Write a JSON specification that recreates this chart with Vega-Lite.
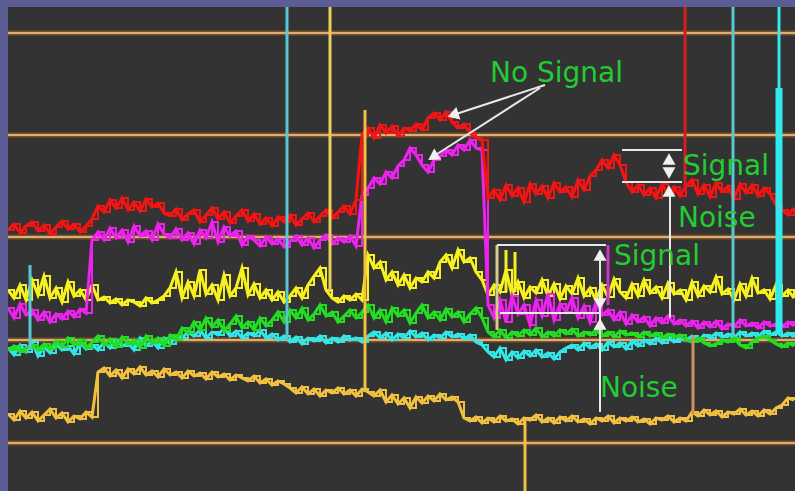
{
"$schema": "https://vega.github.io/schema/vega-lite/v6.json",
"width": 787, "height": 484,
"autosize": {"type": "none"},
"padding": {"left": 8, "top": 7, "right": 0, "bottom": 0},
"background": "#5b5d94",
"config": {"view": {"fill": "#333333", "stroke": null}},
"datasets": {
"signal": [
{"x":8,"r":230,"m":308,"yl":290,"g":350,"c":348,"o":414},
{"x":14,"r":224,"m":318,"yl":298,"g":346,"c":355,"o":420},
{"x":20,"r":233,"m":304,"yl":285,"g":352,"c":345,"o":411},
{"x":26,"r":226,"m":315,"yl":300,"g":348,"c":352,"o":418},
{"x":32,"r":222,"m":310,"yl":280,"g":345,"c":342,"o":412},
{"x":38,"r":231,"m":320,"yl":295,"g":350,"c":356,"o":421},
{"x":44,"r":225,"m":312,"yl":276,"g":344,"c":347,"o":415},
{"x":50,"r":234,"m":322,"yl":298,"g":349,"c":353,"o":409},
{"x":56,"r":227,"m":314,"yl":288,"g":341,"c":344,"o":418},
{"x":62,"r":221,"m":319,"yl":302,"g":347,"c":350,"o":413},
{"x":68,"r":229,"m":311,"yl":282,"g":338,"c":346,"o":422},
{"x":74,"r":224,"m":317,"yl":296,"g":345,"c":354,"o":416},
{"x":80,"r":232,"m":309,"yl":290,"g":340,"c":343,"o":419},
{"x":86,"r":226,"m":313,"yl":300,"g":348,"c":349,"o":412},
{"x":92,"r":219,"m":240,"yl":285,"g":342,"c":345,"o":417},
{"x":98,"r":206,"m":232,"yl":300,"g":336,"c":350,"o":372},
{"x":104,"r":212,"m":240,"yl":297,"g":345,"c":342,"o":368},
{"x":110,"r":200,"m":228,"yl":303,"g":339,"c":348,"o":376},
{"x":116,"r":208,"m":238,"yl":299,"g":347,"c":340,"o":370},
{"x":122,"r":198,"m":230,"yl":305,"g":337,"c":346,"o":378},
{"x":128,"r":210,"m":242,"yl":300,"g":344,"c":343,"o":369},
{"x":134,"r":202,"m":226,"yl":302,"g":340,"c":350,"o":374},
{"x":140,"r":211,"m":236,"yl":306,"g":348,"c":338,"o":367},
{"x":146,"r":199,"m":231,"yl":298,"g":336,"c":346,"o":375},
{"x":152,"r":207,"m":240,"yl":303,"g":343,"c":341,"o":371},
{"x":158,"r":203,"m":224,"yl":300,"g":338,"c":348,"o":377},
{"x":164,"r":213,"m":234,"yl":296,"g":346,"c":338,"o":369},
{"x":170,"r":216,"m":238,"yl":288,"g":335,"c":344,"o":375},
{"x":176,"r":209,"m":229,"yl":272,"g":340,"c":336,"o":372},
{"x":182,"r":220,"m":240,"yl":298,"g":328,"c":338,"o":378},
{"x":188,"r":214,"m":233,"yl":282,"g":333,"c":332,"o":371},
{"x":194,"r":210,"m":244,"yl":296,"g":322,"c":336,"o":376},
{"x":200,"r":222,"m":230,"yl":270,"g":330,"c":330,"o":373},
{"x":206,"r":215,"m":238,"yl":294,"g":318,"c":338,"o":379},
{"x":212,"r":208,"m":222,"yl":285,"g":327,"c":332,"o":372},
{"x":218,"r":219,"m":242,"yl":300,"g":320,"c":335,"o":377},
{"x":224,"r":212,"m":227,"yl":275,"g":331,"c":328,"o":374},
{"x":230,"r":223,"m":236,"yl":296,"g":324,"c":336,"o":380},
{"x":236,"r":216,"m":231,"yl":288,"g":316,"c":331,"o":375},
{"x":242,"r":210,"m":245,"yl":268,"g":328,"c":338,"o":378},
{"x":248,"r":221,"m":236,"yl":295,"g":322,"c":333,"o":381},
{"x":254,"r":214,"m":240,"yl":284,"g":330,"c":336,"o":376},
{"x":260,"r":224,"m":246,"yl":298,"g":318,"c":330,"o":383},
{"x":266,"r":218,"m":237,"yl":290,"g":326,"c":338,"o":379},
{"x":272,"r":226,"m":244,"yl":300,"g":320,"c":334,"o":385},
{"x":278,"r":217,"m":239,"yl":292,"g":312,"c":340,"o":381},
{"x":284,"r":222,"m":247,"yl":302,"g":322,"c":336,"o":384},
{"x":290,"r":215,"m":241,"yl":296,"g":310,"c":342,"o":388},
{"x":296,"r":225,"m":236,"yl":288,"g":318,"c":337,"o":393},
{"x":302,"r":219,"m":245,"yl":298,"g":308,"c":344,"o":387},
{"x":308,"r":213,"m":238,"yl":285,"g":320,"c":338,"o":394},
{"x":314,"r":222,"m":248,"yl":276,"g":314,"c":341,"o":389},
{"x":320,"r":216,"m":240,"yl":268,"g":305,"c":336,"o":396},
{"x":326,"r":210,"m":235,"yl":290,"g":316,"c":343,"o":390},
{"x":332,"r":218,"m":244,"yl":298,"g":312,"c":338,"o":393},
{"x":338,"r":212,"m":238,"yl":302,"g":322,"c":342,"o":388},
{"x":344,"r":206,"m":242,"yl":296,"g":316,"c":336,"o":394},
{"x":350,"r":214,"m":236,"yl":300,"g":310,"c":340,"o":390},
{"x":356,"r":200,"m":246,"yl":294,"g":318,"c":338,"o":396},
{"x":362,"r":135,"m":195,"yl":300,"g":312,"c":342,"o":389},
{"x":368,"r":128,"m":188,"yl":255,"g":305,"c":336,"o":392},
{"x":374,"r":138,"m":178,"yl":268,"g":318,"c":332,"o":396},
{"x":380,"r":125,"m":184,"yl":262,"g":310,"c":338,"o":390},
{"x":386,"r":133,"m":172,"yl":280,"g":322,"c":333,"o":402},
{"x":392,"r":126,"m":178,"yl":272,"g":308,"c":340,"o":395},
{"x":398,"r":136,"m":166,"yl":285,"g":316,"c":334,"o":404},
{"x":404,"r":128,"m":160,"yl":275,"g":310,"c":338,"o":398},
{"x":410,"r":131,"m":148,"yl":288,"g":323,"c":331,"o":408},
{"x":416,"r":124,"m":155,"yl":278,"g":313,"c":337,"o":397},
{"x":422,"r":130,"m":165,"yl":282,"g":305,"c":333,"o":403},
{"x":428,"r":118,"m":172,"yl":272,"g":318,"c":340,"o":396},
{"x":434,"r":113,"m":160,"yl":278,"g":312,"c":335,"o":401},
{"x":440,"r":120,"m":156,"yl":262,"g":320,"c":338,"o":394},
{"x":446,"r":112,"m":150,"yl":255,"g":309,"c":332,"o":400},
{"x":452,"r":122,"m":155,"yl":268,"g":317,"c":337,"o":397},
{"x":458,"r":128,"m":145,"yl":250,"g":312,"c":334,"o":402},
{"x":464,"r":124,"m":150,"yl":262,"g":322,"c":339,"o":418},
{"x":470,"r":133,"m":140,"yl":258,"g":314,"c":335,"o":421},
{"x":476,"r":138,"m":148,"yl":272,"g":308,"c":342,"o":417},
{"x":482,"r":140,"m":150,"yl":280,"g":318,"c":345,"o":423},
{"x":488,"r":198,"m":305,"yl":295,"g":332,"c":352,"o":418},
{"x":494,"r":190,"m":318,"yl":285,"g":337,"c":357,"o":422},
{"x":500,"r":200,"m":300,"yl":292,"g":330,"c":348,"o":416},
{"x":506,"r":185,"m":322,"yl":270,"g":338,"c":360,"o":421},
{"x":512,"r":196,"m":296,"yl":295,"g":332,"c":352,"o":419},
{"x":518,"r":188,"m":314,"yl":282,"g":336,"c":358,"o":424},
{"x":524,"r":202,"m":305,"yl":298,"g":330,"c":351,"o":418},
{"x":530,"r":184,"m":325,"yl":287,"g":335,"c":356,"o":420},
{"x":536,"r":194,"m":300,"yl":293,"g":328,"c":350,"o":415},
{"x":542,"r":186,"m":316,"yl":280,"g":337,"c":357,"o":422},
{"x":548,"r":198,"m":294,"yl":296,"g":332,"c":353,"o":418},
{"x":554,"r":183,"m":320,"yl":284,"g":336,"c":359,"o":423},
{"x":560,"r":192,"m":304,"yl":299,"g":330,"c":352,"o":417},
{"x":566,"r":187,"m":312,"yl":286,"g":334,"c":348,"o":421},
{"x":572,"r":197,"m":298,"yl":294,"g":329,"c":345,"o":416},
{"x":578,"r":180,"m":318,"yl":278,"g":336,"c":350,"o":422},
{"x":584,"r":190,"m":306,"yl":296,"g":332,"c":343,"o":419},
{"x":590,"r":176,"m":322,"yl":288,"g":335,"c":348,"o":424},
{"x":596,"r":170,"m":302,"yl":300,"g":330,"c":344,"o":418},
{"x":602,"r":160,"m":315,"yl":285,"g":336,"c":350,"o":421},
{"x":608,"r":168,"m":310,"yl":297,"g":332,"c":342,"o":416},
{"x":614,"r":155,"m":320,"yl":279,"g":337,"c":347,"o":423},
{"x":620,"r":165,"m":312,"yl":292,"g":331,"c":343,"o":418},
{"x":626,"r":182,"m":324,"yl":298,"g":335,"c":349,"o":421},
{"x":632,"r":192,"m":315,"yl":284,"g":333,"c":341,"o":417},
{"x":638,"r":185,"m":322,"yl":296,"g":337,"c":346,"o":422},
{"x":644,"r":195,"m":317,"yl":280,"g":332,"c":340,"o":419},
{"x":650,"r":188,"m":326,"yl":293,"g":336,"c":344,"o":424},
{"x":656,"r":198,"m":318,"yl":287,"g":333,"c":338,"o":418},
{"x":662,"r":184,"m":323,"yl":298,"g":338,"c":343,"o":420},
{"x":668,"r":194,"m":316,"yl":283,"g":334,"c":337,"o":416},
{"x":674,"r":187,"m":324,"yl":294,"g":337,"c":342,"o":422},
{"x":680,"r":196,"m":320,"yl":290,"g":335,"c":338,"o":418},
{"x":686,"r":186,"m":326,"yl":300,"g":340,"c":340,"o":421},
{"x":692,"r":180,"m":321,"yl":282,"g":342,"c":336,"o":412},
{"x":698,"r":194,"m":328,"yl":296,"g":338,"c":341,"o":416},
{"x":704,"r":185,"m":322,"yl":286,"g":343,"c":335,"o":410},
{"x":710,"r":197,"m":327,"yl":292,"g":346,"c":338,"o":415},
{"x":716,"r":183,"m":321,"yl":277,"g":344,"c":333,"o":411},
{"x":722,"r":192,"m":329,"yl":294,"g":340,"c":337,"o":417},
{"x":728,"r":186,"m":324,"yl":289,"g":342,"c":334,"o":412},
{"x":734,"r":199,"m":327,"yl":300,"g":338,"c":338,"o":414},
{"x":740,"r":184,"m":320,"yl":284,"g":345,"c":332,"o":409},
{"x":746,"r":193,"m":326,"yl":296,"g":348,"c":336,"o":415},
{"x":752,"r":185,"m":323,"yl":278,"g":342,"c":333,"o":411},
{"x":758,"r":196,"m":328,"yl":293,"g":338,"c":337,"o":416},
{"x":764,"r":188,"m":322,"yl":290,"g":336,"c":331,"o":410},
{"x":770,"r":194,"m":326,"yl":299,"g":340,"c":335,"o":414},
{"x":776,"r":205,"m":324,"yl":285,"g":344,"c":332,"o":408},
{"x":782,"r":210,"m":327,"yl":296,"g":347,"c":336,"o":405},
{"x":788,"r":215,"m":322,"yl":290,"g":343,"c":333,"o":398},
{"x":794,"r":208,"m":326,"yl":298,"g":346,"c":337,"o":400}
],
"grid": [{"gy":33},{"gy":135},{"gy":237},{"gy":340},{"gy":443}],
"spikes": [
{"series":"cyanpale","x":30,"top":265,"bottom":350},
{"series":"cyanpale","x":287,"top":7,"bottom":340},
{"series":"yellowpale","x":330,"top":7,"bottom":292},
{"series":"gold","x":365,"top":110,"bottom":392},
{"series":"gold","x":525,"top":418,"bottom":491},
{"series":"redline","x":685,"top":7,"bottom":190},
{"series":"tan","x":693,"top":335,"bottom":414},
{"series":"cyanpale","x":733,"top":7,"bottom":336},
{"series":"cyan","x":779,"top":7,"bottom":90},
{"series":"cyanwide","x":779,"top":88,"bottom":332},
{"series":"yellow","x":506,"top":250,"bottom":292},
{"series":"yellow","x":515,"top":252,"bottom":292},
{"series":"tanpale","x":497,"top":245,"bottom":330},
{"series":"magenta","x":608,"top":245,"bottom":305}
],
"guides": [
{"x":622,"y":150,"x2":682,"y2":150},
{"x":622,"y":182,"x2":682,"y2":182},
{"x":670,"y":190,"x2":670,"y2":318},
{"x":497,"y":245,"x2":606,"y2":245},
{"x":500,"y":313,"x2":600,"y2":313},
{"x":600,"y":255,"x2":600,"y2":412},
{"x":545,"y":85,"x2":453,"y2":115},
{"x":540,"y":88,"x2":434,"y2":156}
],
"heads": [
{"x":669,"y":159,"dir":"up"},
{"x":669,"y":173,"dir":"down"},
{"x":669,"y":191,"dir":"up"},
{"x":600,"y":255,"dir":"up"},
{"x":600,"y":304,"dir":"down"},
{"x":600,"y":324,"dir":"up"}
],
"labels": [
{"label":"No Signal","x":490,"y":82},
{"label":"Signal","x":683,"y":175},
{"label":"Noise","x":678,"y":227},
{"label":"Signal","x":614,"y":265},
{"label":"Noise","x":600,"y":397}
]
},
"layer": [
{"data":{"name":"grid"},"mark":{"type":"rule","color":"#7a5226","strokeWidth":5},
 "encoding":{"y":{"field":"gy","type":"quantitative","scale":{"domain":[7,491],"reverse":true,"nice":false,"zero":false},"axis":null}}},
{"data":{"name":"grid"},"mark":{"type":"rule","color":"#dcae78","strokeWidth":2},
 "encoding":{"y":{"field":"gy","type":"quantitative","scale":{"domain":[7,491],"reverse":true,"nice":false,"zero":false},"axis":null}}},
{"data":{"name":"signal"},"mark":{"type":"line","color":"#f2c040","strokeWidth":3,"clip":true},
 "encoding":{"x":{"field":"x","type":"quantitative","scale":{"domain":[8,795],"nice":false,"zero":false},"axis":null},
 "y":{"field":"o","type":"quantitative","scale":{"domain":[7,491],"reverse":true,"nice":false,"zero":false},"axis":null}}},
{"data":{"name":"signal"},"mark":{"type":"line","color":"#f2c040","strokeWidth":2,"interpolate":"step-after","clip":true},
 "encoding":{"x":{"field":"x","type":"quantitative","scale":{"domain":[8,795],"nice":false,"zero":false},"axis":null},
 "y":{"field":"o","type":"quantitative","scale":{"domain":[7,491],"reverse":true,"nice":false,"zero":false},"axis":null}}},
{"data":{"name":"signal"},"mark":{"type":"line","color":"#33e6e6","strokeWidth":3,"clip":true},
 "encoding":{"x":{"field":"x","type":"quantitative","scale":{"domain":[8,795],"nice":false,"zero":false},"axis":null},
 "y":{"field":"c","type":"quantitative","scale":{"domain":[7,491],"reverse":true,"nice":false,"zero":false},"axis":null}}},
{"data":{"name":"signal"},"mark":{"type":"line","color":"#33e6e6","strokeWidth":2,"interpolate":"step-after","clip":true},
 "encoding":{"x":{"field":"x","type":"quantitative","scale":{"domain":[8,795],"nice":false,"zero":false},"axis":null},
 "y":{"field":"c","type":"quantitative","scale":{"domain":[7,491],"reverse":true,"nice":false,"zero":false},"axis":null}}},
{"data":{"name":"signal"},"mark":{"type":"line","color":"#22dd22","strokeWidth":3,"clip":true},
 "encoding":{"x":{"field":"x","type":"quantitative","scale":{"domain":[8,795],"nice":false,"zero":false},"axis":null},
 "y":{"field":"g","type":"quantitative","scale":{"domain":[7,491],"reverse":true,"nice":false,"zero":false},"axis":null}}},
{"data":{"name":"signal"},"mark":{"type":"line","color":"#22dd22","strokeWidth":2,"interpolate":"step-after","clip":true},
 "encoding":{"x":{"field":"x","type":"quantitative","scale":{"domain":[8,795],"nice":false,"zero":false},"axis":null},
 "y":{"field":"g","type":"quantitative","scale":{"domain":[7,491],"reverse":true,"nice":false,"zero":false},"axis":null}}},
{"data":{"name":"signal"},"mark":{"type":"line","color":"#f6f020","strokeWidth":3,"clip":true},
 "encoding":{"x":{"field":"x","type":"quantitative","scale":{"domain":[8,795],"nice":false,"zero":false},"axis":null},
 "y":{"field":"yl","type":"quantitative","scale":{"domain":[7,491],"reverse":true,"nice":false,"zero":false},"axis":null}}},
{"data":{"name":"signal"},"mark":{"type":"line","color":"#f6f020","strokeWidth":2,"interpolate":"step-after","clip":true},
 "encoding":{"x":{"field":"x","type":"quantitative","scale":{"domain":[8,795],"nice":false,"zero":false},"axis":null},
 "y":{"field":"yl","type":"quantitative","scale":{"domain":[7,491],"reverse":true,"nice":false,"zero":false},"axis":null}}},
{"data":{"name":"signal"},"mark":{"type":"line","color":"#ee22ee","strokeWidth":3,"clip":true},
 "encoding":{"x":{"field":"x","type":"quantitative","scale":{"domain":[8,795],"nice":false,"zero":false},"axis":null},
 "y":{"field":"m","type":"quantitative","scale":{"domain":[7,491],"reverse":true,"nice":false,"zero":false},"axis":null}}},
{"data":{"name":"signal"},"mark":{"type":"line","color":"#ee22ee","strokeWidth":2,"interpolate":"step-after","clip":true},
 "encoding":{"x":{"field":"x","type":"quantitative","scale":{"domain":[8,795],"nice":false,"zero":false},"axis":null},
 "y":{"field":"m","type":"quantitative","scale":{"domain":[7,491],"reverse":true,"nice":false,"zero":false},"axis":null}}},
{"data":{"name":"signal"},"mark":{"type":"line","color":"#f41414","strokeWidth":3,"clip":true},
 "encoding":{"x":{"field":"x","type":"quantitative","scale":{"domain":[8,795],"nice":false,"zero":false},"axis":null},
 "y":{"field":"r","type":"quantitative","scale":{"domain":[7,491],"reverse":true,"nice":false,"zero":false},"axis":null}}},
{"data":{"name":"signal"},"mark":{"type":"line","color":"#f41414","strokeWidth":2,"interpolate":"step-after","clip":true},
 "encoding":{"x":{"field":"x","type":"quantitative","scale":{"domain":[8,795],"nice":false,"zero":false},"axis":null},
 "y":{"field":"r","type":"quantitative","scale":{"domain":[7,491],"reverse":true,"nice":false,"zero":false},"axis":null}}},
{"data":{"name":"spikes"},"transform":[{"filter":"datum.series != 'cyanwide'"}],
 "mark":{"type":"rule","strokeWidth":3},
 "encoding":{"x":{"field":"x","type":"quantitative","scale":{"domain":[8,795],"nice":false,"zero":false},"axis":null},
 "y":{"field":"top","type":"quantitative","scale":{"domain":[7,491],"reverse":true,"nice":false,"zero":false},"axis":null},
 "y2":{"field":"bottom"},
 "color":{"field":"series","type":"nominal","legend":null,
   "scale":{"domain":["cyanpale","yellowpale","gold","redline","tan","cyan","cyanwide","yellow","tanpale","magenta"],
            "range":["#58c8d4","#e6d25a","#f2c040","#d41e1e","#c8965a","#33e8ee","#33e8ee","#f6f020","#d8cc88","#cc33cc"]}}}},
{"data":{"name":"spikes"},"transform":[{"filter":"datum.series == 'cyanwide'"}],
 "mark":{"type":"rule","strokeWidth":7,"color":"#33e8ee"},
 "encoding":{"x":{"field":"x","type":"quantitative","scale":{"domain":[8,795],"nice":false,"zero":false},"axis":null},
 "y":{"field":"top","type":"quantitative","scale":{"domain":[7,491],"reverse":true,"nice":false,"zero":false},"axis":null},
 "y2":{"field":"bottom"}}},
{"data":{"name":"guides"},"mark":{"type":"rule","color":"#e8e8e8","strokeWidth":2},
 "encoding":{"x":{"field":"x","type":"quantitative","scale":{"domain":[8,795],"nice":false,"zero":false},"axis":null},
 "y":{"field":"y","type":"quantitative","scale":{"domain":[7,491],"reverse":true,"nice":false,"zero":false},"axis":null},
 "x2":{"field":"x2"},"y2":{"field":"y2"}}},
{"data":{"name":"heads"},"mark":{"type":"point","filled":true,"size":170,"color":"#f0f0f0","opacity":1},
 "encoding":{"x":{"field":"x","type":"quantitative","scale":{"domain":[8,795],"nice":false,"zero":false},"axis":null},
 "y":{"field":"y","type":"quantitative","scale":{"domain":[7,491],"reverse":true,"nice":false,"zero":false},"axis":null},
 "shape":{"field":"dir","type":"nominal","legend":null,"scale":{"domain":["up","down"],"range":["triangle-up","triangle-down"]}}}},
{"data":{"values":[{"x":453,"y":115}]},"mark":{"type":"point","shape":"triangle-up","angle":252,"filled":true,"size":170,"color":"#f0f0f0","opacity":1},
 "encoding":{"x":{"field":"x","type":"quantitative","scale":{"domain":[8,795],"nice":false,"zero":false},"axis":null},
 "y":{"field":"y","type":"quantitative","scale":{"domain":[7,491],"reverse":true,"nice":false,"zero":false},"axis":null}}},
{"data":{"values":[{"x":433,"y":157}]},"mark":{"type":"point","shape":"triangle-up","angle":237,"filled":true,"size":170,"color":"#f0f0f0","opacity":1},
 "encoding":{"x":{"field":"x","type":"quantitative","scale":{"domain":[8,795],"nice":false,"zero":false},"axis":null},
 "y":{"field":"y","type":"quantitative","scale":{"domain":[7,491],"reverse":true,"nice":false,"zero":false},"axis":null}}},
{"data":{"name":"labels"},"mark":{"type":"text","align":"left","baseline":"alphabetic","font":"DejaVu Sans","fontSize":28,"color":"#22cc33"},
 "encoding":{"x":{"field":"x","type":"quantitative","scale":{"domain":[8,795],"nice":false,"zero":false},"axis":null},
 "y":{"field":"y","type":"quantitative","scale":{"domain":[7,491],"reverse":true,"nice":false,"zero":false},"axis":null},
 "text":{"field":"label"}}}
]
}
